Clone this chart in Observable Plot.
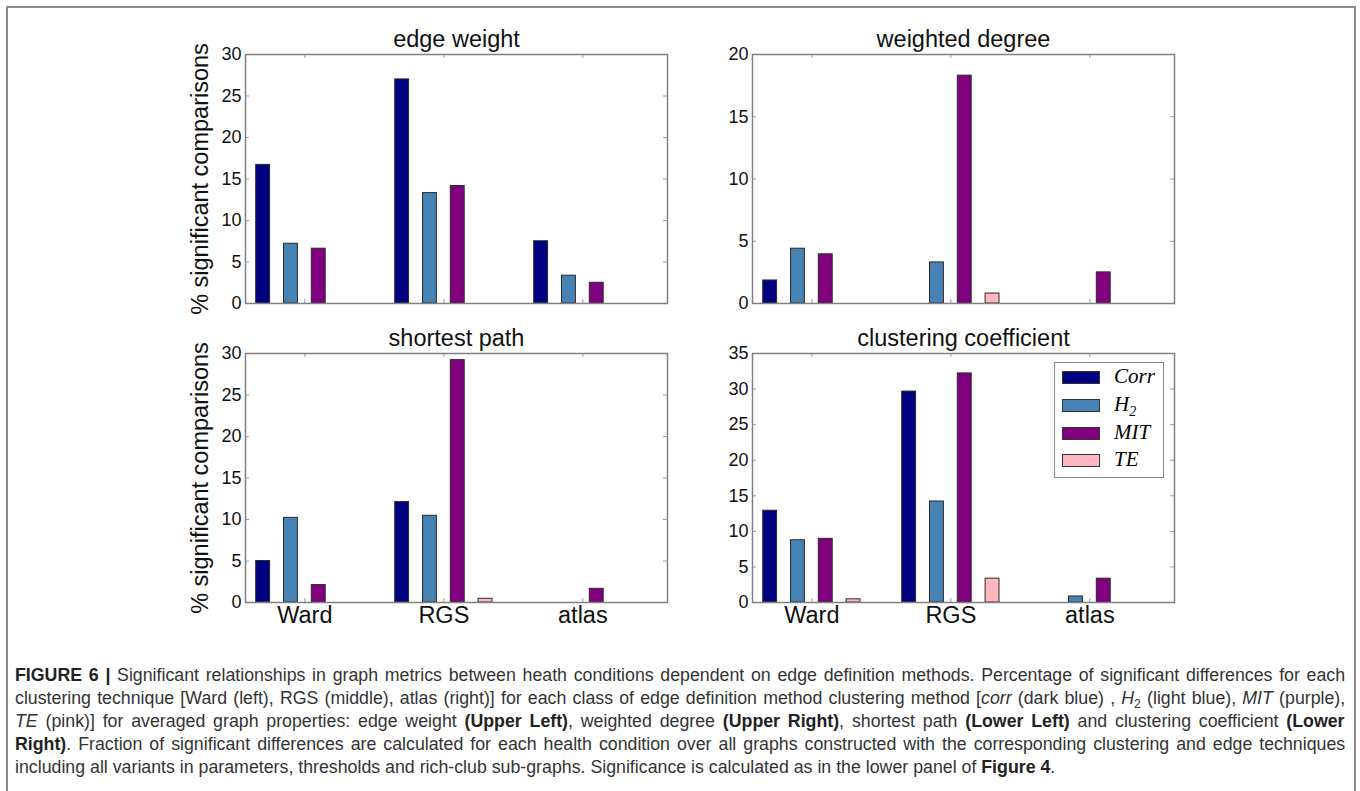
<!DOCTYPE html>
<html>
<head>
<meta charset="utf-8">
<script src="https://cdn.jsdelivr.net/npm/d3@7"></script>
<script src="https://cdn.jsdelivr.net/npm/@observablehq/plot@0.6"></script>
<style>
  html, body { margin: 0; padding: 0; background: #fff; }
  body { width: 1360px; height: 791px; overflow: hidden; position: relative; font-family: "Liberation Sans", Arial, sans-serif; }
  #border { position: absolute; left: 6px; top: 6px; width: 1350px; height: 900px; box-sizing: border-box; border: 2px solid #8c8c8c; }
  .panel { position: absolute; }
  .panel svg { overflow: visible; }
  #legend { position: absolute; left: 1054px; top: 362px; width: 110px; height: 116px; box-sizing: border-box; border: 1.5px solid #8a8a8a; background: #fff; }
  .lrow { position: absolute; left: 0; height: 13px; }
  .lsw { position: absolute; left: 7px; top: 0; width: 38px; height: 13px; box-sizing: border-box; border: 1px solid #333; }
  .llab { position: absolute; left: 59px; top: -7px; font-family: "Liberation Serif", "DejaVu Serif", serif; font-style: italic; font-size: 21px; line-height: 24px; white-space: nowrap; color: #000; }
  .llab sub { font-size: 14px; vertical-align: -5px; line-height: 0; }
  #caption { position: absolute; left: 15px; top: 664px; }
  .cline { height: 23px; line-height: 23px; white-space: nowrap; font-size: 17.5px; color: #333; }
  .cline span.inner { display: inline-block; transform-origin: 0 50%; }
  .cline b { color: #222; }
  .cline sub { font-size: 12px; vertical-align: -4px; line-height: 0; }
</style>
</head>
<body>
<div id="border"></div>
<div id="charts"></div>
<div id="legend"></div>
<div id="caption"></div>
<script>
// ---------- data ----------
const groups = ["Ward", "RGS", "atlas"];
const methods = ["Corr", "H2", "MIT", "TE"];
const methodLabels = ["Corr", "H", "MIT", "TE"];
const methodSubs = ["", "2", "", ""];
const methodColors = ["#000080", "#4682b4", "#800080", "#ffb6c1"];
const panelTitles = ["edge weight", "weighted degree", "shortest path", "clustering coefficient"];
const yLabel = "% significant comparisons";
const yMaxes = [30, 20, 30, 35];
const yTicksEdge = [0, 5, 10, 15, 20, 25, 30];
const yTicksDegree = [0, 5, 10, 15, 20];
const yTicksPath = [0, 5, 10, 15, 20, 25, 30];
const yTicksClust = [0, 5, 10, 15, 20, 25, 30, 35];
// rows: Ward, RGS, atlas ; columns: Corr, H2, MIT, TE
const edgeWeight     = [[16.7, 7.2, 6.6, 0.0], [27.0, 13.3, 14.15, 0.0], [7.5, 3.35, 2.5, 0.0]];
const weightedDegree = [[1.85, 4.4, 3.95, 0.0], [0.0, 3.3, 18.3, 0.8], [0.0, 0.0, 2.5, 0.0]];
const shortestPath   = [[5.0, 10.2, 2.1, 0.0], [12.1, 10.45, 29.2, 0.45], [0.0, 0.0, 1.65, 0.0]];
const clusteringCoef = [[12.9, 8.75, 8.95, 0.45], [29.65, 14.2, 32.2, 3.35], [0.0, 0.85, 3.35, 0.0]];

// caption lines: [text, style] where style: "" | "b" | "i" | "sub"
const captionLines = [
  [["FIGURE 6 |", "b"], [" Significant relationships in graph metrics between heath conditions dependent on edge definition methods. Percentage of significant differences for each", ""]],
  [["clustering technique [Ward (left), RGS (middle), atlas (right)] for each class of edge definition method clustering method [", ""], ["corr", "i"], [" (dark blue) , ", ""], ["H", "i"], ["2", "sub"], [" (light blue), ", ""], ["MIT", "i"], [" (purple),", ""]],
  [["TE", "i"], [" (pink)] for averaged graph properties: edge weight ", ""], ["(Upper Left)", "b"], [", weighted degree ", ""], ["(Upper Right)", "b"], [", shortest path ", ""], ["(Lower Left)", "b"], [" and clustering coefficient ", ""], ["(Lower", "b"]],
  [["Right)", "b"], [". Fraction of significant differences are calculated for each health condition over all graphs constructed with the corresponding clustering and edge techniques", ""]],
  [["including all variants in parameters, thresholds and rich-club sub-graphs. Significance is calculated as in the lower panel of ", ""], ["Figure 4", "b"], [".", ""]]
];

// ---------- layout ----------
const W = 520, H = 330, mL = 95, mR = 3, mT = 34, mB = 47;
const FW = W - mL - mR, FH = H - mT - mB;
const barW = 0.1, barStep = 0.2;
const panels = [
  {title: panelTitles[0], values: edgeWeight, ymax: yMaxes[0], ticks: yTicksEdge, left: 150, top: 20, showX: false, showY: true},
  {title: panelTitles[1], values: weightedDegree, ymax: yMaxes[1], ticks: yTicksDegree, left: 656.7, top: 20, showX: false, showY: false},
  {title: panelTitles[2], values: shortestPath, ymax: yMaxes[2], ticks: yTicksPath, left: 150, top: 319.3, showX: true, showY: true},
  {title: panelTitles[3], values: clusteringCoef, ymax: yMaxes[3], ticks: yTicksClust, left: 656.7, top: 319.3, showX: true, showY: false}
];

function makePanel(p) {
  const data = [];
  p.values.forEach((row, g) => row.forEach((v, s) => data.push({g, s, method: methods[s], value: v})));
  const groupIdx = groups.map((_, i) => i);
  const marks = [
    Plot.rect(data, {
      x1: d => d.g + (d.s - 1.5) * barStep - barW / 2,
      x2: d => d.g + (d.s - 1.5) * barStep + barW / 2,
      y1: 0, y2: "value",
      fill: "method", stroke: "#2a2a2a", strokeWidth: 1
    }),
    Plot.tickY(p.ticks, {y: d => d, stroke: "#9a9a9a", insetRight: FW - 4}),
    Plot.tickY(p.ticks, {y: d => d, stroke: "#9a9a9a", insetLeft: FW - 4}),
    Plot.tickX(groupIdx, {x: d => d, stroke: "#9a9a9a", insetBottom: FH - 4}),
    Plot.tickX(groupIdx, {x: d => d, stroke: "#9a9a9a", insetTop: FH - 4}),
    Plot.frame({stroke: "#808080", strokeWidth: 1.5}),
    Plot.axisY(p.ticks, {tickSize: 0, tickPadding: 4, fontSize: 18, label: null}),
    Plot.text([p.title], {frameAnchor: "top", dy: -8, lineAnchor: "bottom", fontSize: 23.5})
  ];
  if (p.showX) marks.push(Plot.axisX(groupIdx, {tickSize: 0, tickPadding: 4, fontSize: 23.5, tickFormat: i => groups[i], label: null}));
  if (p.showY) marks.push(Plot.text([yLabel], {frameAnchor: "left", rotate: -90, dx: -38, textAnchor: "middle", lineAnchor: "bottom", fontSize: 23.5}));
  return Plot.plot({
    width: W, height: H,
    marginLeft: mL, marginRight: mR, marginTop: mT, marginBottom: mB,
    style: {fontFamily: '"Liberation Sans", Arial, sans-serif', color: "#111", background: "transparent", overflow: "visible"},
    x: {domain: [-0.427, 2.609], axis: null},
    y: {domain: [0, p.ymax], axis: null},
    color: {domain: methods, range: methodColors},
    marks
  });
}

const charts = document.getElementById("charts");
panels.forEach(p => {
  const div = document.createElement("div");
  div.className = "panel";
  div.style.left = p.left + "px";
  div.style.top = p.top + "px";
  div.appendChild(makePanel(p));
  charts.appendChild(div);
});

// ---------- legend ----------
const legend = document.getElementById("legend");
methods.forEach((m, i) => {
  const row = document.createElement("div");
  row.className = "lrow";
  row.style.top = (8 + i * 27.8) + "px";
  const sw = document.createElement("div");
  sw.className = "lsw";
  sw.style.background = methodColors[i];
  const lab = document.createElement("div");
  lab.className = "llab";
  lab.textContent = methodLabels[i];
  if (methodSubs[i]) {
    const sub = document.createElement("sub");
    sub.textContent = methodSubs[i];
    lab.appendChild(sub);
  }
  row.appendChild(sw);
  row.appendChild(lab);
  legend.appendChild(row);
});

// ---------- caption ----------
const cap = document.getElementById("caption");
const spans = captionLines.map(segs => {
  const line = document.createElement("div");
  line.className = "cline";
  const inner = document.createElement("span");
  inner.className = "inner";
  segs.forEach(([t, st]) => {
    const el = st === "b" ? document.createElement("b") : st === "i" ? document.createElement("i") : st === "sub" ? document.createElement("sub") : document.createElement("span");
    el.textContent = t;
    inner.appendChild(el);
  });
  line.appendChild(inner);
  cap.appendChild(line);
  return inner;
});
const fullWidth = 1330, lastWidth = 1040;
const k = lastWidth / spans[spans.length - 1].offsetWidth;
spans.forEach((s, i) => {
  if (i < spans.length - 1) {
    const n = (s.textContent.match(/ /g) || []).length;
    const extra = (fullWidth / k - s.offsetWidth) / n;
    s.style.wordSpacing = extra + "px";
  }
  s.style.transform = `scaleX(${k})`;
});
</script>
</body>
</html>
